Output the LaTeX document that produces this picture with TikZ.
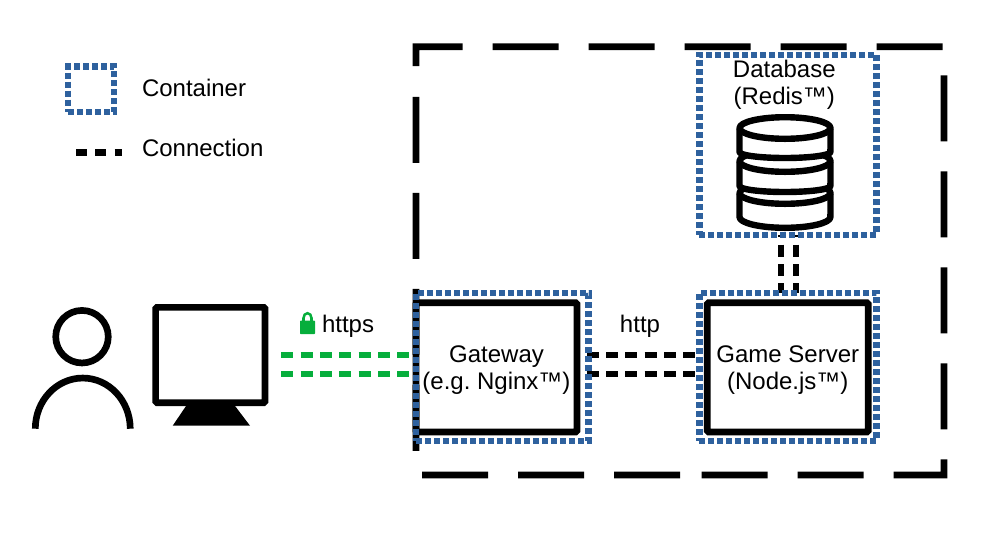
\documentclass[tikz,border=0pt]{standalone}
\usepackage{fontspec}
\setmainfont{Liberation Sans}
\usepackage{xcolor}
\usetikzlibrary{positioning,backgrounds}
\definecolor{contblue}{HTML}{2E619E}
\definecolor{lockgreen}{HTML}{06AE3C}
\begin{document}
\begin{tikzpicture}[
  x=0.75pt, y=-0.75pt,
  font=\fontsize{18}{20.25}\selectfont,
  cont/.style={draw=contblue, line width=4.8pt, dash pattern=on 4.5pt off 2.25pt, inner sep=0pt, outer sep=0pt},
  b/.style={draw, line width=5pt, rounded corners=1pt, align=center, inner sep=0pt, outer sep=0pt, text depth=0pt, minimum width=120.75pt, minimum height=97pt},
  conn/.style={line width=4.8pt, dash pattern=on 9pt off 5.5pt},
  disc/.style={line width=4.8pt, line join=round},
  lab/.style={inner sep=0pt, outer sep=0pt}
]
\useasboundingbox (0,0) rectangle (982,544);
% legend
\node[cont, minimum width=34.5pt, minimum height=34.3pt] (legcont) at (91,89.2) {};
\node[lab, anchor=base west] (legconttext) at (142,96) {Container};
\coordinate (legfrom) at (76,152.3);
\coordinate (legto) at (122,152.3);
\draw[conn, dash pattern=on 8pt off 6.5pt] (legfrom) -- (legto);
\node[lab, anchor=base west] (legconntext) at (142,156) {Connection};
% user and screen
\node[draw, circle, line width=5pt, inner sep=0pt, outer sep=0pt, minimum size=39.4pt] (head) at (82,336.7) {};
\draw[line width=5pt] (35.3,428.7) arc[start angle=180, end angle=0, x radius=35.6pt, y radius=38pt];
\node[draw, line width=5pt, rounded corners=1pt, inner sep=0pt, outer sep=0pt, minimum width=82pt, minimum height=71.5pt] (screen) at (210.3,355) {};
\fill (186.7,405) -- (234.3,405) -- (250,425.7) -- (172.7,425.7) -- cycle;
% boxes
\node[b] (gateway) at (496.5,367.35) {Gateway\\(e.g.\ Nginx™)};
\node[b] (game) at (787.8,367.35) {Game Server\\(Node.js™)};
% outer zone
\node[inner sep=0pt, outer sep=0pt, minimum width=396pt, minimum height=321.2pt] (zone) at (680,260.85) {};
\coordinate (zonestart) at (416,66);
\coordinate (zoneend) at (700,475);
\coordinate (zonerestart) at (680,475);
\coordinate (zonestop) at (416,96);
\draw[line width=5pt, dash pattern=on 49.5pt off 22.5pt] (zonestart) -- (zone.north west) -- (zone.north east) -- (zone.south east) -- (zoneend);
\draw[line width=5pt, dash pattern=on 49.5pt off 22.5pt] (zonerestart) -- (zone.south west) -- (zonestop);
% containers
\node[cont, minimum width=133pt, minimum height=135pt] (dbcont) at (788,145) {};
\node[cont, minimum width=129.5pt, minimum height=111.2pt] (gatewaycont) at (502.35,366.85) {};
\node[cont, minimum width=133pt, minimum height=111.2pt] (gamecont) at (788,366.85) {};
% connections
\coordinate (rowa) at (0,355);
\coordinate (rowb) at (0,374);
\coordinate (cola) at (781.2,0);
\coordinate (colb) at (796.2,0);
\begin{scope}[on background layer]
\draw[conn, lockgreen, shorten <=12.3pt, shorten >=4pt] (screen.east |- rowa) -- (gatewaycont.west |- rowa);
\draw[conn, lockgreen, shorten <=12.3pt, shorten >=4pt] (screen.east |- rowb) -- (gatewaycont.west |- rowb);
\draw[conn, shorten <=-1.5pt, shorten >=2.5pt] (gatewaycont.east |- rowa) -- (gamecont.west |- rowa);
\draw[conn, shorten <=-1.5pt, shorten >=2.5pt] (gatewaycont.east |- rowb) -- (gamecont.west |- rowb);
\draw[conn, dash phase=7.2pt] (dbcont.south -| cola) -- (gamecont.north -| cola);
\draw[conn, dash phase=7.2pt] (dbcont.south -| colb) -- (gamecont.north -| colb);
\end{scope}
% labels
\node[lab, align=center] (dbtitle) at (784.3,85) {Database\\(Redis™)};
\node[lab, anchor=base] (httplabel) at (640,332.5) {http};
\node[lab, anchor=base west] (httpslabel) at (322,332.5) {https};
% lock
\fill[lockgreen, rounded corners=0.5pt] (300,320.7) rectangle (315,334);
\draw[lockgreen, line width=1.9pt] (303.5,321) -- (303.5,318) arc[start angle=180, end angle=0, x radius=3pt, y radius=3.6pt] -- (311.5,321);
% database, lowest disc first
\draw[disc, fill=white] (739.5,193) -- (739.5,217) arc[start angle=180, end angle=360, x radius=34.1pt, y radius=8.1pt] -- (830.5,193) arc[start angle=0, end angle=180, x radius=34.1pt, y radius=8.1pt] -- cycle;
\draw[disc] (739.5,193) arc[start angle=180, end angle=360, x radius=34.1pt, y radius=8.1pt];
\draw[disc, fill=white] (739.5,161) -- (739.5,186) arc[start angle=180, end angle=360, x radius=34.1pt, y radius=4.5pt] -- (830.5,161) arc[start angle=0, end angle=180, x radius=34.1pt, y radius=8.1pt] -- cycle;
\draw[disc] (739.5,161) arc[start angle=180, end angle=360, x radius=34.1pt, y radius=8.1pt];
\draw[disc, fill=white] (739.5,128) -- (739.5,152) arc[start angle=180, end angle=360, x radius=34.1pt, y radius=4.5pt] -- (830.5,128) arc[start angle=0, end angle=180, x radius=34.1pt, y radius=8.1pt] -- cycle;
\draw[disc] (739.5,128) arc[start angle=180, end angle=360, x radius=34.1pt, y radius=8.1pt];
\end{tikzpicture}
\end{document}
